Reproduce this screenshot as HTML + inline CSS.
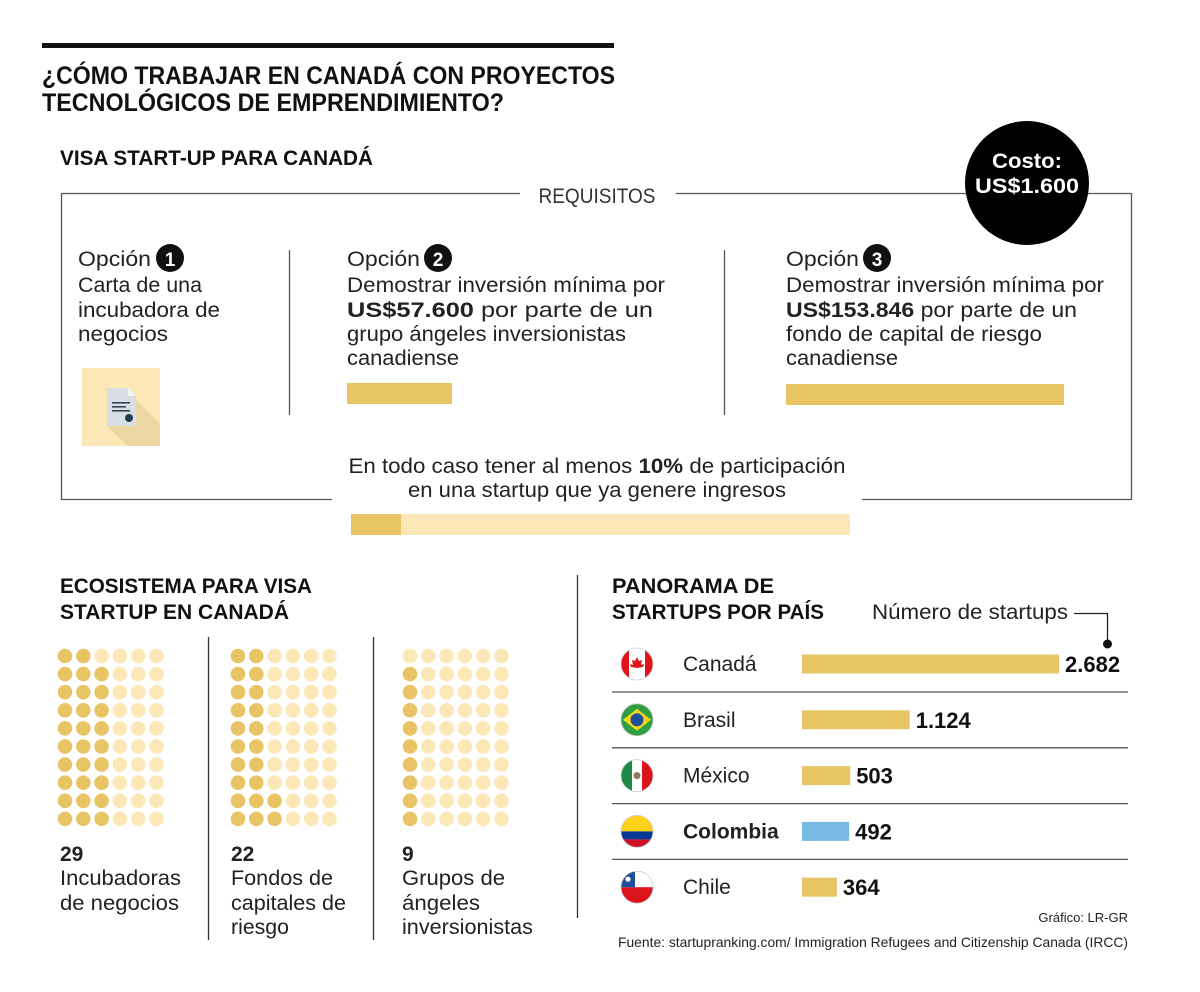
<!DOCTYPE html>
<html><head><meta charset="utf-8">
<style>
html,body{margin:0;padding:0;background:#fff;}
svg{display:block;font-family:"Liberation Sans Narrow","Liberation Sans",sans-serif;}
</style></head>
<body>
<svg id="chart" width="1200" height="992" viewBox="0 0 1200 992" xmlns="http://www.w3.org/2000/svg">
<rect x="0" y="0" width="1200" height="992" fill="#fff"/>
<rect x="42" y="43" width="572" height="5" fill="#111"/>
<g font-weight="bold" font-size="25" fill="#111">
<text x="42" y="84" textLength="573" lengthAdjust="spacingAndGlyphs">¿CÓMO TRABAJAR EN CANADÁ CON PROYECTOS</text>
<text x="42" y="111" textLength="462" lengthAdjust="spacingAndGlyphs">TECNOLÓGICOS DE EMPRENDIMIENTO?</text>
</g>
<text x="60" y="165" font-weight="bold" font-size="21" fill="#111" textLength="313" lengthAdjust="spacingAndGlyphs">VISA START-UP PARA CANADÁ</text>

<g stroke="#555" stroke-width="1.3" fill="none">
<path d="M520 193.5 H61.5 V499.5 H332 M862 499.5 H1131.5 V193.5 H676"/>
</g>
<text x="597" y="203" text-anchor="middle" font-size="21" fill="#333" textLength="117" lengthAdjust="spacingAndGlyphs">REQUISITOS</text>

<g>
<circle cx="1027" cy="183" r="62" fill="#000"/>
<text x="1027" y="168" text-anchor="middle" font-weight="bold" font-size="21" fill="#fff" textLength="70" lengthAdjust="spacingAndGlyphs">Costo:</text>
<text x="1027" y="193" text-anchor="middle" font-weight="bold" font-size="21" fill="#fff" textLength="104" lengthAdjust="spacingAndGlyphs">US$1.600</text>
</g>

<line x1="289.5" y1="250" x2="289.5" y2="415" stroke="#555" stroke-width="1.3"/>
<line x1="724.5" y1="250" x2="724.5" y2="415" stroke="#555" stroke-width="1.3"/>

<g font-size="21" fill="#222">
<text x="78" y="266" textLength="73" lengthAdjust="spacingAndGlyphs">Opción</text>
<circle cx="170" cy="258" r="14" fill="#111"/>
<text x="170" y="266" text-anchor="middle" fill="#fff" font-size="19" font-weight="bold">1</text>
<text x="78" y="292" textLength="124" lengthAdjust="spacingAndGlyphs">Carta de una</text>
<text x="78" y="317" textLength="142" lengthAdjust="spacingAndGlyphs">incubadora de</text>
<text x="78" y="341" textLength="90" lengthAdjust="spacingAndGlyphs">negocios</text>
</g>
<g>
<rect x="82" y="368" width="78" height="78" fill="#fce8b7"/>
<polygon points="136,400 160,424 160,446 128,446 107,426 136,426" fill="#ecd7a3"/>
<polygon points="107,388 128,388 136,396 136,426 107,426" fill="#d9dee5"/>
<polygon points="128,388 136,396 128,396" fill="#f3f4f6"/>
<rect x="112" y="402" width="18" height="1.6" fill="#33475a"/>
<rect x="112" y="406" width="14" height="1.6" fill="#33475a"/>
<rect x="112" y="410" width="18" height="1.6" fill="#33475a"/>
<circle cx="129" cy="418" r="4" fill="#1f3b50"/>
</g>

<g font-size="21" fill="#222">
<text x="347" y="266" textLength="73" lengthAdjust="spacingAndGlyphs">Opción</text>
<circle cx="438" cy="258" r="14" fill="#111"/>
<text x="438" y="266" text-anchor="middle" fill="#fff" font-size="19" font-weight="bold">2</text>
<text x="347" y="292" textLength="318" lengthAdjust="spacingAndGlyphs">Demostrar inversión mínima por</text>
<text x="347" y="317" textLength="306" lengthAdjust="spacingAndGlyphs"><tspan font-weight="bold">US$57.600</tspan> por parte de un</text>
<text x="347" y="341" textLength="279" lengthAdjust="spacingAndGlyphs">grupo ángeles inversionistas</text>
<text x="347" y="365" textLength="112" lengthAdjust="spacingAndGlyphs">canadiense</text>
<rect x="347" y="383" width="105" height="21" fill="#e8c465"/>
</g>

<g font-size="21" fill="#222">
<text x="786" y="266" textLength="73" lengthAdjust="spacingAndGlyphs">Opción</text>
<circle cx="877" cy="258" r="14" fill="#111"/>
<text x="877" y="266" text-anchor="middle" fill="#fff" font-size="19" font-weight="bold">3</text>
<text x="786" y="292" textLength="318" lengthAdjust="spacingAndGlyphs">Demostrar inversión mínima por</text>
<text x="786" y="317" textLength="291" lengthAdjust="spacingAndGlyphs"><tspan font-weight="bold">US$153.846</tspan> por parte de un</text>
<text x="786" y="341" textLength="256" lengthAdjust="spacingAndGlyphs">fondo de capital de riesgo</text>
<text x="786" y="365" textLength="112" lengthAdjust="spacingAndGlyphs">canadiense</text>
<rect x="786" y="384" width="278" height="21" fill="#e8c465"/>
</g>

<g font-size="21" fill="#222">
<text x="597" y="473" text-anchor="middle" textLength="497" lengthAdjust="spacingAndGlyphs">En todo caso tener al menos <tspan font-weight="bold">10%</tspan> de participación</text>
<text x="597" y="497" text-anchor="middle" textLength="378" lengthAdjust="spacingAndGlyphs">en una startup que ya genere ingresos</text>
<rect x="351" y="514" width="499" height="21" fill="#fce8b7"/>
<rect x="351" y="514" width="50" height="21" fill="#e8c465"/>
</g>

<g font-weight="bold" font-size="21" fill="#111">
<text x="60" y="593" textLength="252" lengthAdjust="spacingAndGlyphs">ECOSISTEMA PARA VISA</text>
<text x="60" y="619" textLength="229" lengthAdjust="spacingAndGlyphs">STARTUP EN CANADÁ</text>
</g>
<line x1="577.5" y1="575" x2="577.5" y2="918" stroke="#333" stroke-width="1.3"/>
<line x1="208.5" y1="637" x2="208.5" y2="940" stroke="#333" stroke-width="1.3"/>
<line x1="373.5" y1="637" x2="373.5" y2="940" stroke="#333" stroke-width="1.3"/>
<g id="dots"></g>

<g font-size="21" fill="#222">
<text x="60" y="861" font-weight="bold">29</text>
<text x="60" y="885" textLength="121" lengthAdjust="spacingAndGlyphs">Incubadoras</text>
<text x="60" y="910" textLength="119" lengthAdjust="spacingAndGlyphs">de negocios</text>
<text x="231" y="861" font-weight="bold">22</text>
<text x="231" y="885" textLength="102" lengthAdjust="spacingAndGlyphs">Fondos de</text>
<text x="231" y="910" textLength="115" lengthAdjust="spacingAndGlyphs">capitales de</text>
<text x="231" y="934" textLength="58" lengthAdjust="spacingAndGlyphs">riesgo</text>
<text x="402" y="861" font-weight="bold">9</text>
<text x="402" y="885" textLength="103" lengthAdjust="spacingAndGlyphs">Grupos de</text>
<text x="402" y="910" textLength="78" lengthAdjust="spacingAndGlyphs">ángeles</text>
<text x="402" y="934" textLength="131" lengthAdjust="spacingAndGlyphs">inversionistas</text>
</g>

<g font-weight="bold" font-size="21" fill="#111">
<text x="612" y="593" textLength="162" lengthAdjust="spacingAndGlyphs">PANORAMA DE</text>
<text x="612" y="619" textLength="212" lengthAdjust="spacingAndGlyphs">STARTUPS POR PAÍS</text>
</g>
<g>
<text x="872" y="619" font-size="21" fill="#222" textLength="196" lengthAdjust="spacingAndGlyphs">Número de startups</text>
<path d="M1074 613.5 H1107.5 V643" stroke="#222" stroke-width="1.3" fill="none"/>
<circle cx="1107.5" cy="644" r="4.5" fill="#111"/>
</g>
<g id="bars"></g>

<text x="1128" y="922" text-anchor="end" font-size="13" fill="#222">Gráfico: LR-GR</text>
<text x="1128" y="947" text-anchor="end" font-size="14" fill="#222" textLength="510" lengthAdjust="spacingAndGlyphs">Fuente: startupranking.com/ Immigration Refugees and Citizenship Canada (IRCC)</text>
</svg>
<script>
const NS = "http://www.w3.org/2000/svg";
// Dot grid data
const ecoCounts = [29, 22, 9];
const ecoTotal = 60;
// Country bar data
const countries = ["Canadá", "Brasil", "México", "Colombia", "Chile"];
const startups = [2682, 1124, 503, 492, 364];
const valueLabels = ["2.682", "1.124", "503", "492", "364"];

function mk(tag, attrs, parent) {
  const el = document.createElementNS(NS, tag);
  for (const k in attrs) el.setAttribute(k, attrs[k]);
  parent.appendChild(el);
  return el;
}

const dotsG = document.getElementById("dots");
const gridX = [65, 238, 410];
const dotDx = 18.3, dotDy = 18.1, dotY0 = 656;
ecoCounts.forEach((count, g) => {
  for (let c = 0; c < 6; c++) {
    for (let r = 0; r < 10; r++) {
      const idxFromBottom = c * 10 + (9 - r);
      const filled = idxFromBottom < count;
      const d = mk("circle", {cx: gridX[g] + c * dotDx, cy: dotY0 + r * dotDy, r: 7.3, fill: filled ? "#e8c465" : "#fce8b7"}, dotsG);
      
      
    }
  }
});

const barsG = document.getElementById("bars");
const x0 = 802, maxW = 257, maxV = 2682;
const xScale = v => (v / maxV) * maxW;
const rowY0 = 664, rowDy = 55.8;
const yCenter = i => rowY0 + i * rowDy;

function flag(i, cx, cy) {
  const g = mk("g", {}, barsG);
  
  
  const id = "clip" + i;
  const cp = mk("clipPath", {id: id}, g);
  mk("circle", {cx: cx, cy: cy, r: 16}, cp);
  const inner = mk("g", {"clip-path": "url(#" + id + ")"}, g);
  const L = cx - 16, T = cy - 16;
  if (i === 0) {
    mk("rect", {x: L, y: T, width: 32, height: 32, fill: "#fff"}, inner);
    mk("rect", {x: L, y: T, width: 8, height: 32, fill: "#e0141b"}, inner);
    mk("rect", {x: cx + 8, y: T, width: 8, height: 32, fill: "#e0141b"}, inner);
    mk("path", {d: `M${cx} ${cy-7} l2 4 3-1-1 5 3-1-1 3-6 1-6-1-1-3 3 1-1-5 3 1z`, fill: "#e0141b"}, inner);
  } else if (i === 1) {
    mk("rect", {x: L, y: T, width: 32, height: 32, fill: "#2ea043"}, inner);
    mk("polygon", {points: `${cx},${cy-11} ${cx+14},${cy} ${cx},${cy+11} ${cx-14},${cy}`, fill: "#f7d417"}, inner);
    mk("circle", {cx: cx, cy: cy, r: 6.5, fill: "#1f4e9c"}, inner);
  } else if (i === 2) {
    mk("rect", {x: L, y: T, width: 32, height: 32, fill: "#fff"}, inner);
    mk("rect", {x: L, y: T, width: 11, height: 32, fill: "#1a8a45"}, inner);
    mk("rect", {x: cx + 5, y: T, width: 11, height: 32, fill: "#d9141b"}, inner);
    mk("circle", {cx: cx, cy: cy, r: 3.5, fill: "#8a7a5a"}, inner);
  } else if (i === 3) {
    mk("rect", {x: L, y: T, width: 32, height: 16, fill: "#fcd116"}, inner);
    mk("rect", {x: L, y: cy, width: 32, height: 8, fill: "#003893"}, inner);
    mk("rect", {x: L, y: cy + 8, width: 32, height: 8, fill: "#ce1126"}, inner);
  } else {
    mk("rect", {x: L, y: T, width: 32, height: 16, fill: "#fff"}, inner);
    mk("rect", {x: L, y: cy, width: 32, height: 16, fill: "#d9141b"}, inner);
    mk("rect", {x: L, y: T, width: 14, height: 16, fill: "#1f4e9c"}, inner);
    mk("circle", {cx: L + 7, cy: T + 8, r: 2.6, fill: "#fff"}, inner);
  }
  mk("circle", {cx: cx, cy: cy, r: 16, fill: "none", stroke: "#ccc", "stroke-width": 0.8}, g);
}

countries.forEach((name, i) => {
  const cy = yCenter(i);
  flag(i, 637, cy);
  const t = mk("text", {x: 683, y: cy + 7, "font-size": 21, fill: "#222", "font-weight": name === "Colombia" ? "bold" : "normal"}, barsG);
  t.textContent = name;
  
  
  const w = xScale(startups[i]);
  const b = mk("rect", {x: x0, y: cy - 9.5, width: w, height: 19, fill: name === "Colombia" ? "#78b9e3" : "#e8c465"}, barsG);
  
  
  const v = mk("text", {x: x0 + w + 6, y: cy + 8, "font-size": 22, "font-weight": "bold", fill: "#111"}, barsG);
  v.textContent = valueLabels[i];
  
  
  if (i < countries.length - 1) {
    const ln = mk("line", {x1: 612, x2: 1128, y1: cy + 28, y2: cy + 28, stroke: "#555", "stroke-width": 1.3}, barsG);
    
    
  }
});
</script>
</body></html>
